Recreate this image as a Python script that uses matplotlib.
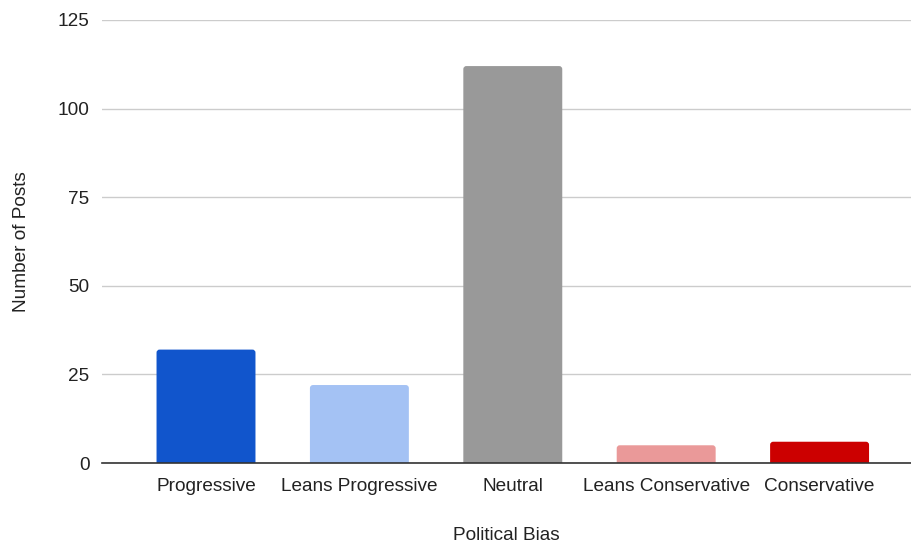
import matplotlib.pyplot as plt
from matplotlib.patches import FancyBboxPatch

categories = ['Progressive', 'Leans Progressive', 'Neutral', 'Leans Conservative', 'Conservative']
posts = [32, 22, 112, 5, 6]
colors = ['#1155cc', '#a4c2f4', '#999999', '#ea9999', '#cc0000']
y_ticks = [0, 25, 50, 75, 100, 125]

plt.rcParams['font.family'] = ['Liberation Sans', 'DejaVu Sans']

fig = plt.figure(figsize=(9.11, 5.44), dpi=100)
ax = fig.add_axes([102 / 911, 81 / 544, 809 / 911, 443 / 544])

x = list(range(len(categories)))
bars = ax.bar(x, posts, width=0.645, color=colors, zorder=3)

ax.set_xlim(-0.678, 4.596)
ax.set_ylim(0, 125)

# swap plain bars for ones with slightly rounded top corners
# (bottom pushed below zero so only the top corners show)
for bar in bars:
    bx, bw, bh = bar.get_x(), bar.get_width(), bar.get_height()
    bar.set_visible(False)
    rounded = FancyBboxPatch((bx, -3), bw, bh + 3,
                             boxstyle='round,pad=0,rounding_size=0.02',
                             mutation_aspect=43.3,
                             facecolor=bar.get_facecolor(), edgecolor='none',
                             zorder=3, clip_on=True)
    ax.add_patch(rounded)

ax.set_yticks(y_ticks)
ax.set_xticks(x)
ax.set_xticklabels(categories)

ax.grid(axis='y', color='#cccccc', linewidth=1, zorder=0)
for side in ['top', 'right', 'left']:
    ax.spines[side].set_visible(False)
ax.spines['bottom'].set_color('#333333')
ax.spines['bottom'].set_linewidth(1.2)
ax.spines['bottom'].set_zorder(4)

ax.tick_params(axis='both', length=0, labelsize=13.7, colors='#222222')
ax.tick_params(axis='x', pad=11)
ax.tick_params(axis='y', pad=9)

ax.set_xlabel('Political Bias', fontsize=13.7, color='#222222', labelpad=23)
ax.set_ylabel('Number of Posts', fontsize=13.7, color='#222222', labelpad=20)

fig.savefig('out.png', dpi=100)
